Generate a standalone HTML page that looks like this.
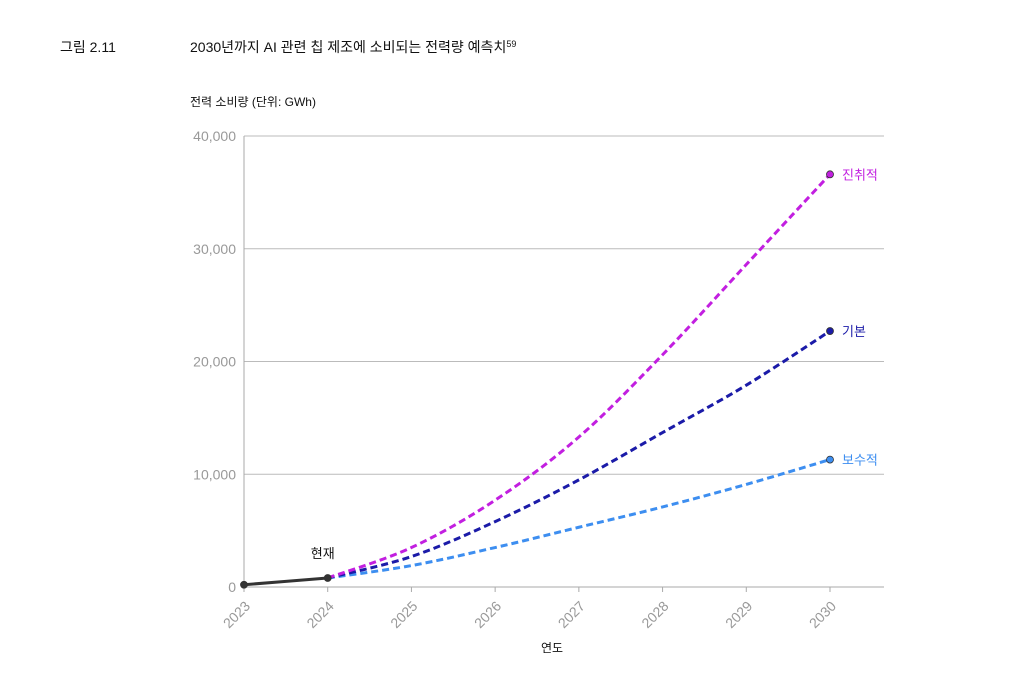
<!DOCTYPE html>
<html><head><meta charset="utf-8"><style>
body{margin:0;background:#fff;width:1024px;height:681px;overflow:hidden;font-family:"Liberation Sans","Noto Sans CJK KR",sans-serif;}
</style></head><body>
<svg width="1024" height="681" xmlns="http://www.w3.org/2000/svg" font-family="Liberation Sans, Noto Sans CJK KR, sans-serif">
<text x="60" y="52" font-size="14" fill="#111">그림 2.11</text>
<text x="190" y="52" font-size="14" fill="#111">2030년까지 AI 관련 칩 제조에 소비되는 전력량 예측치<tspan font-size="9" dy="-5">59</tspan></text>
<text x="190" y="106" font-size="12" fill="#111">전력 소비량 (단위: GWh)</text>
<text x="552" y="652" font-size="12" fill="#111" text-anchor="middle">연도</text>
<g id="grid"></g><g id="axes"></g><g id="series"></g>
</svg>
<script>
const years=[2023,2024,2025,2026,2027,2028,2029,2030];
const yTicks=[0,10000,20000,30000,40000];
const yTickLabels=["0","10,000","20,000","30,000","40,000"];
const current=[200,800];
const aggressive=[800,3500,7700,13300,20600,28600,36600];
const base=[800,2700,5800,9500,13700,17900,22700];
const conservative=[800,1900,3500,5300,7100,9100,11300];
const NS="http://www.w3.org/2000/svg";
const X0=244,X1=830,Y0=587,Y1=136;
const xs=y=>X0+(y-2023)*(X1-X0)/7;
const ys=v=>Y0-v*(Y0-Y1)/40000;
function mk(t,a,p){const e=document.createElementNS(NS,t);for(const k in a)e.setAttribute(k,a[k]);p.appendChild(e);return e;}
const grid=document.getElementById('grid'),axes=document.getElementById('axes'),ser=document.getElementById('series');
yTicks.forEach((v,i)=>{
 if(v>0){const l=mk('line',{x1:X0,x2:884,y1:ys(v),y2:ys(v),stroke:'#bbb','stroke-width':1},grid);
 }
 const t=mk('text',{x:236,y:ys(v)+5,'font-size':14,fill:'#999','text-anchor':'end'},axes);t.textContent=yTickLabels[i];
 
});
let a=mk('line',{x1:X0,x2:X0,y1:Y1,y2:Y0,stroke:'#aaa'},axes);

a=mk('line',{x1:X0,x2:884,y1:Y0,y2:Y0,stroke:'#aaa'},axes);

years.forEach(y=>{
 const tk=mk('line',{x1:xs(y),x2:xs(y),y1:Y0,y2:Y0+5,stroke:'#aaa'},axes);
 
 const tx=xs(y)+7,ty=Y0+20;
 const t=mk('text',{x:tx,y:ty,'font-size':14,fill:'#999','text-anchor':'end',transform:`rotate(-45 ${tx} ${ty})`},axes);t.textContent=y;
 
});
function smoothPath(P){
 let d=`M${P[0][0]},${P[0][1]}`;
 for(let i=0;i<P.length-1;i++){
  const p0=P[i-1]||P[i],p1=P[i],p2=P[i+1],p3=P[i+2]||p2;
  const c1=[p1[0]+(p2[0]-p0[0])/6,p1[1]+(p2[1]-p0[1])/6];
  const c2=[p2[0]-(p3[0]-p1[0])/6,p2[1]-(p3[1]-p1[1])/6];
  d+=` C${c1[0]},${c1[1]} ${c2[0]},${c2[1]} ${p2[0]},${p2[1]}`;
 }
 return d;
}
function series(vals,startYear,color,dash,name,label){
 const P=vals.map((v,i)=>[xs(startYear+i),ys(v)]);
 const p=mk('path',{d:smoothPath(P),fill:'none',stroke:color,'stroke-width':3,'stroke-dasharray':dash||'none'},ser);
 
 const last=vals.length-1;
 [0,last].forEach(i=>{if(dash&&i===0)return;const c=mk('circle',{cx:xs(startYear+i),cy:ys(vals[i]),r:3.5,fill:color,stroke:'#333','stroke-width':0.8},ser);
  });
 if(label){const t=mk('text',{x:xs(startYear+last)+12,y:ys(vals[last])+5,'font-size':13,fill:color},ser);t.textContent=label;
  }
}
series(conservative,2024,'#3d8ef0','7 4','conservative','보수적');
series(base,2024,'#1b1ba8','7 4','base','기본');
series(aggressive,2024,'#c21fe0','7 4','aggressive','진취적');
series(current,2023,'#333',null,'current',null);
const ct=mk('text',{x:xs(2024)-5,y:ys(current[1])-20,'font-size':13,fill:'#111','text-anchor':'middle'},ser);ct.textContent='현재';

</script>
</body></html>
